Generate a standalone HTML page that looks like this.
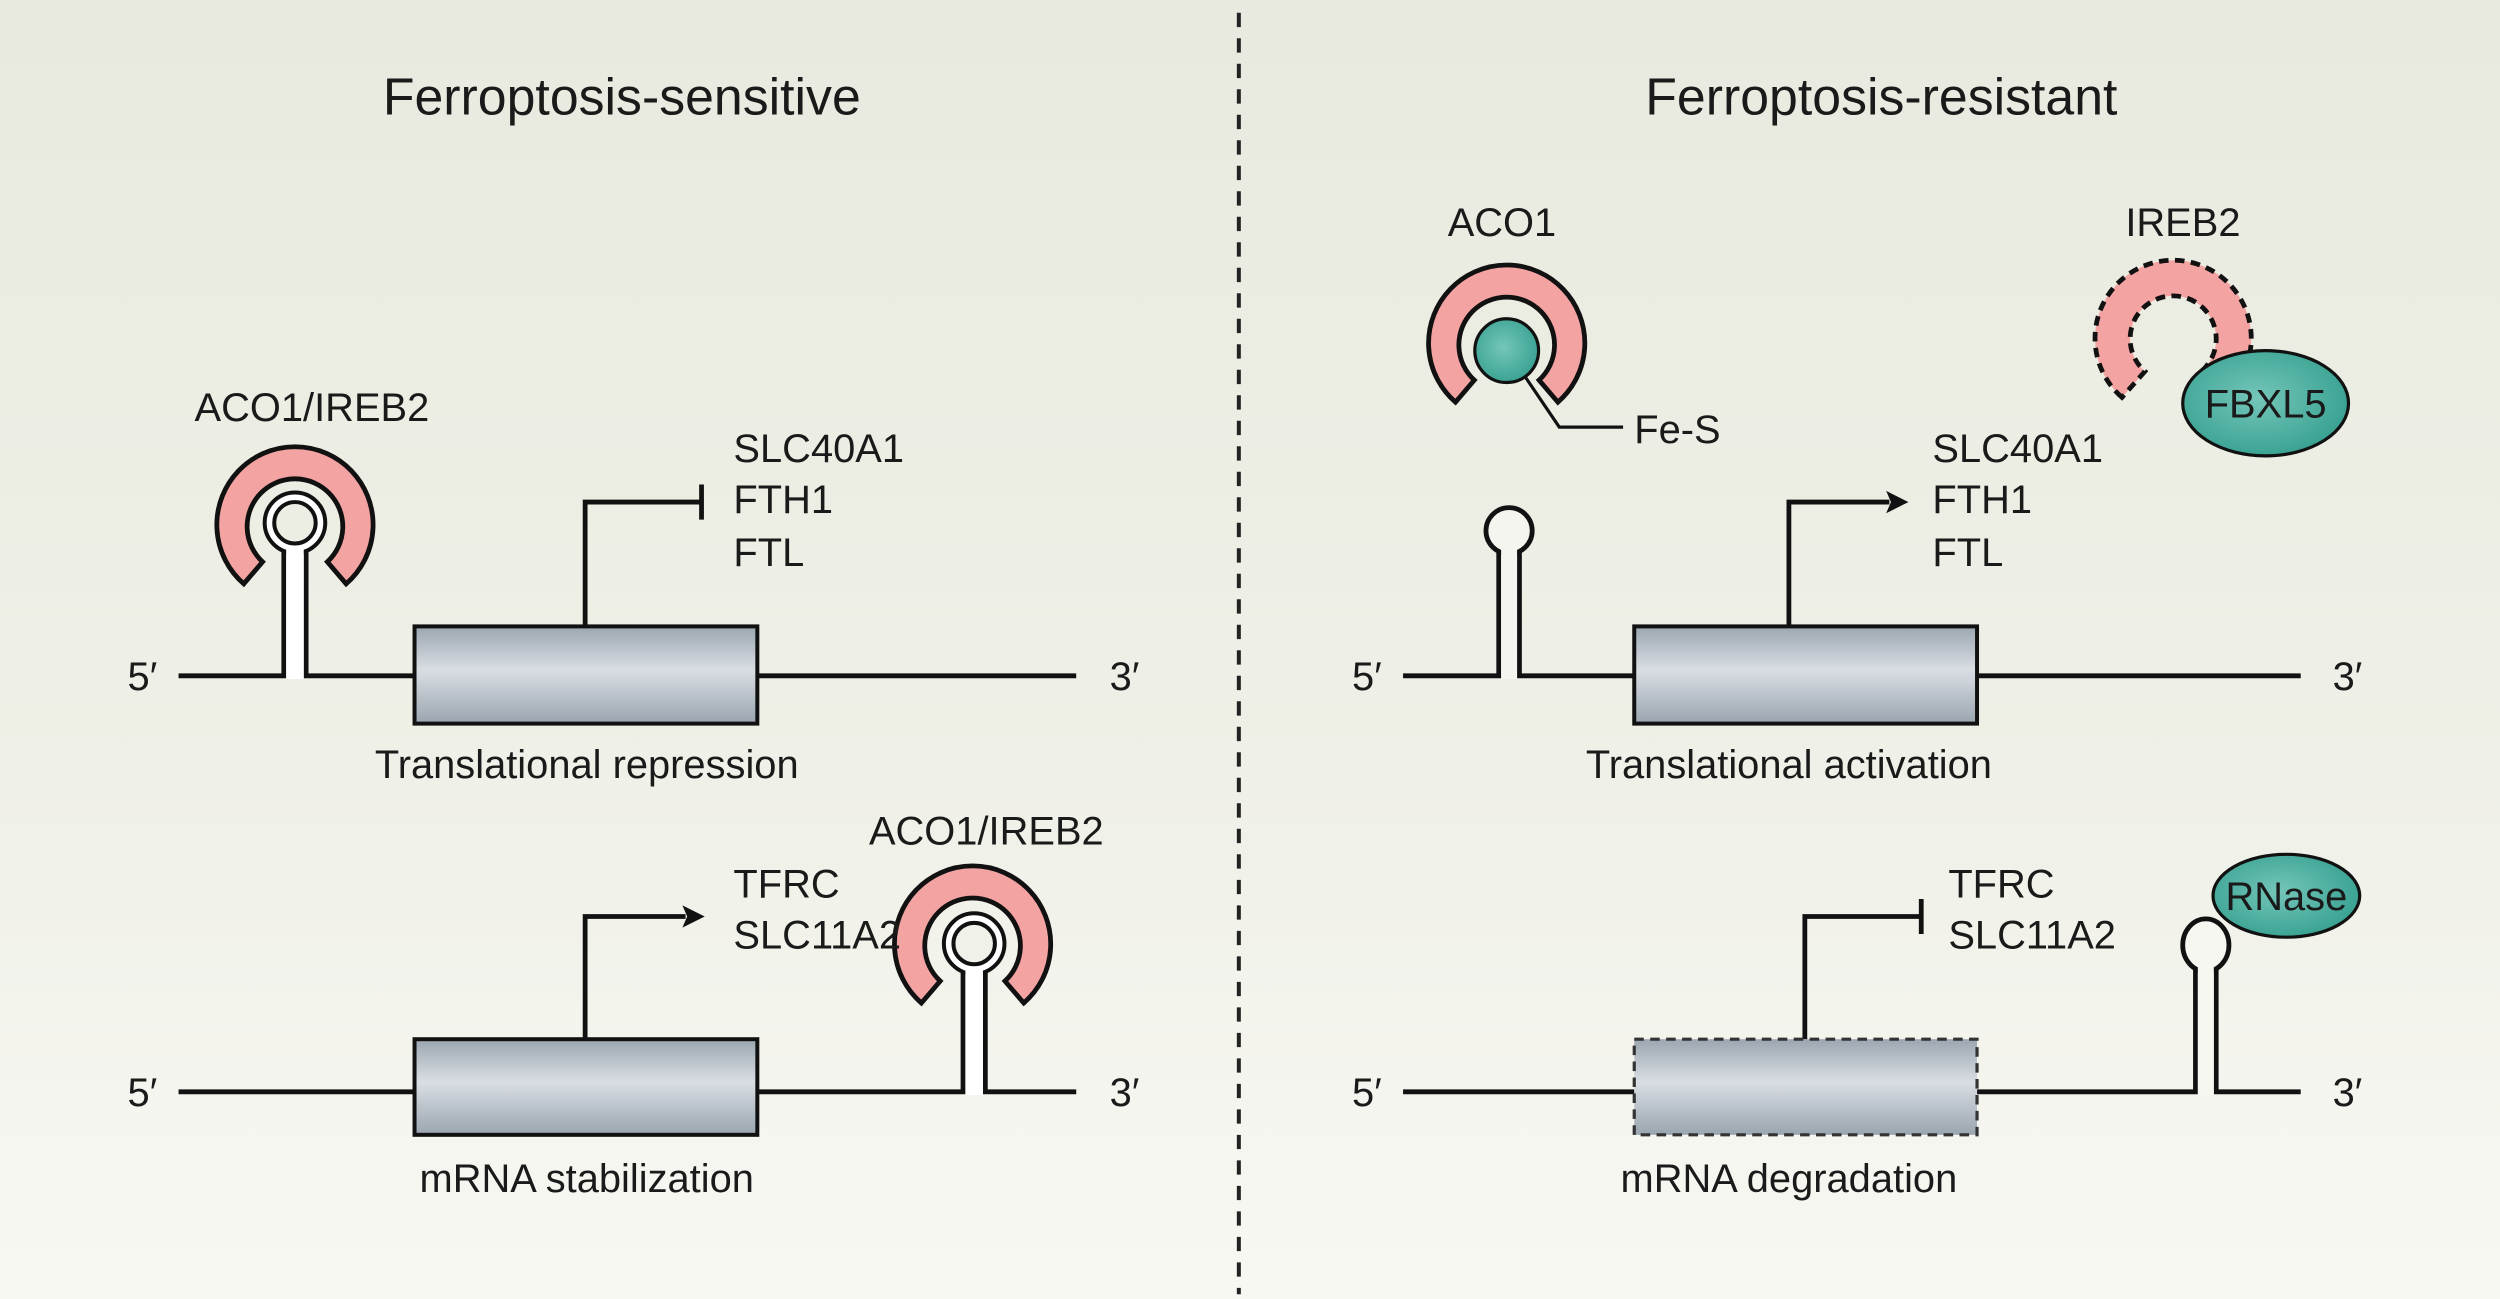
<!DOCTYPE html>
<html><head><meta charset="utf-8"><style>html,body{margin:0;padding:0;width:2500px;height:1299px;overflow:hidden}svg{display:block}text{font-family:"Liberation Sans",sans-serif;fill:#1a1a1a}</style></head>
<body>
<svg width="2500" height="1299" viewBox="0 0 1568 815" preserveAspectRatio="none" xmlns="http://www.w3.org/2000/svg">
<defs>
<linearGradient id="bg" x1="0" y1="0" x2="0" y2="1"><stop offset="0" stop-color="#e8eadf"/><stop offset="0.6" stop-color="#eff0e7"/><stop offset="1" stop-color="#f8f8f3"/></linearGradient>
<linearGradient id="box" x1="0" y1="0" x2="0" y2="1"><stop offset="0" stop-color="#9ba6b0"/><stop offset="0.45" stop-color="#d9dee3"/><stop offset="1" stop-color="#9aa5af"/></linearGradient>
<radialGradient id="teal" cx="0.45" cy="0.45" r="0.6"><stop offset="0" stop-color="#74c6b9"/><stop offset="1" stop-color="#36a090"/></radialGradient>
</defs>
<rect x="0" y="0" width="1568" height="815" fill="url(#bg)"/>
<line x1="777" y1="8" x2="777" y2="812" stroke="#222" stroke-width="2.5" stroke-dasharray="9,7"/>
<text x="390" y="72" font-size="32.5" text-anchor="middle">Ferroptosis-sensitive</text>
<text x="1180" y="72" font-size="32.5" text-anchor="middle">Ferroptosis-resistant</text>

<g stroke="#111" stroke-width="3" fill="none">
<path d="M112,424 H178 V340 M192,340 V424 H260 M475,424 H675"/>
<path d="M367,393 V315 H440 M440,304 V326"/>
<path d="M112,685 H260 M475,685 H604 V605 M618,605 V685 H675"/>
<path d="M367,652 V575 H430"/>
<path d="M880,424 H940 V345 M953,345 V424 H1025 M1240,424 H1443"/>
<path d="M1122,393 V315 H1185"/>
<path d="M880,685 H1025 M1240,685 H1377 V606 M1390,606 V685 H1443"/>
<path d="M1132,652 V575 H1205 M1205,564 V586"/>
</g>
<polygon points="442,575 428,568 431,575 428,582" fill="#111"/>
<polygon points="1197,315 1183,308 1186,315 1183,322" fill="#111"/>

<rect x="260" y="393" width="215" height="61" fill="url(#box)" stroke="#111" stroke-width="2.5"/>
<rect x="260" y="652" width="215" height="60" fill="url(#box)" stroke="#111" stroke-width="2.5"/>
<rect x="1025" y="393" width="215" height="61" fill="url(#box)" stroke="#111" stroke-width="2.5"/>
<rect x="1025" y="652" width="215" height="60" fill="url(#box)" stroke="#333" stroke-width="2" stroke-dasharray="6,4"/>

<path d="M152.9,366.3 A49,49 0 1 1 217.1,366.3 L205.3,352.5 A30,30 0 1 0 164.7,352.5 Z" fill="#f4a3a3" stroke="#111" stroke-width="3"/>
<path d="M577.9,629.3 A49,49 0 1 1 642.1,629.3 L630.3,615.5 A30,30 0 1 0 589.7,615.5 Z" fill="#f4a3a3" stroke="#111" stroke-width="3"/>
<path d="M912.9,252.3 A49,49 0 1 1 977.1,252.3 L965.3,238.5 A30,30 0 1 0 924.7,238.5 Z" fill="#f4a3a3" stroke="#111" stroke-width="3"/>
<path d="M1330.9,249.3 A49,49 0 1 1 1395.1,249.3 L1380.7,233 A27,27 0 1 0 1345.3,233 Z" fill="#f4a3a3" stroke="#111" stroke-width="3" stroke-dasharray="6,4"/>

<circle cx="185" cy="328" r="19" fill="#fff" stroke="#111" stroke-width="2.5"/>
<rect x="179.5" y="336" width="11" height="90" fill="#fff"/>
<circle cx="185" cy="328" r="13" fill="#eceee4" stroke="#111" stroke-width="2.5"/>
<circle cx="611" cy="592" r="19" fill="#fff" stroke="#111" stroke-width="2.5"/>
<rect x="605.5" y="600" width="11" height="87" fill="#fff"/>
<circle cx="611" cy="592" r="13" fill="#f0f1e9" stroke="#111" stroke-width="2.5"/>
<circle cx="946.5" cy="333" r="14.5" fill="#f4f5ee" stroke="#111" stroke-width="3"/>
<rect x="941.5" y="343" width="10" height="83" fill="#f4f5ee"/>
<ellipse cx="1383.5" cy="593" rx="14.5" ry="16.5" fill="#f7f7f2" stroke="#111" stroke-width="3"/>
<rect x="1378.5" y="604" width="10" height="83" fill="#f7f7f2"/>

<circle cx="945" cy="220" r="20" fill="url(#teal)" stroke="#111" stroke-width="2"/>
<path d="M957,237 L978,268 H1018" fill="none" stroke="#111" stroke-width="2"/>
<ellipse cx="1421" cy="253" rx="52" ry="33" fill="url(#teal)" stroke="#111" stroke-width="2"/>
<ellipse cx="1434" cy="562" rx="46" ry="26" fill="url(#teal)" stroke="#111" stroke-width="2"/>

<g font-size="25">
<text x="122" y="264">ACO1/IREB2</text>
<text x="545" y="530">ACO1/IREB2</text>
<text x="908" y="148">ACO1</text>
<text x="1333" y="148">IREB2</text>
<text x="1025" y="278">Fe-S</text>
<text x="1421" y="262" text-anchor="middle">FBXL5</text>
<text x="1434" y="571" text-anchor="middle">RNase</text>
<text x="460" y="290">SLC40A1</text><text x="460" y="322">FTH1</text><text x="460" y="355">FTL</text>
<text x="460" y="563">TFRC</text><text x="460" y="595">SLC11A2</text>
<text x="1212" y="290">SLC40A1</text><text x="1212" y="322">FTH1</text><text x="1212" y="355">FTL</text>
<text x="1222" y="563">TFRC</text><text x="1222" y="595">SLC11A2</text>
<text x="368" y="488" text-anchor="middle">Translational repression</text>
<text x="368" y="748" text-anchor="middle">mRNA stabilization</text>
<text x="1122" y="488" text-anchor="middle">Translational activation</text>
<text x="1122" y="748" text-anchor="middle">mRNA degradation</text>
<text x="80" y="433">5′</text><text x="696" y="433">3′</text>
<text x="80" y="694">5′</text><text x="696" y="694">3′</text>
<text x="848" y="433">5′</text><text x="1463" y="433">3′</text>
<text x="848" y="694">5′</text><text x="1463" y="694">3′</text>
</g>
</svg>
</body></html>
